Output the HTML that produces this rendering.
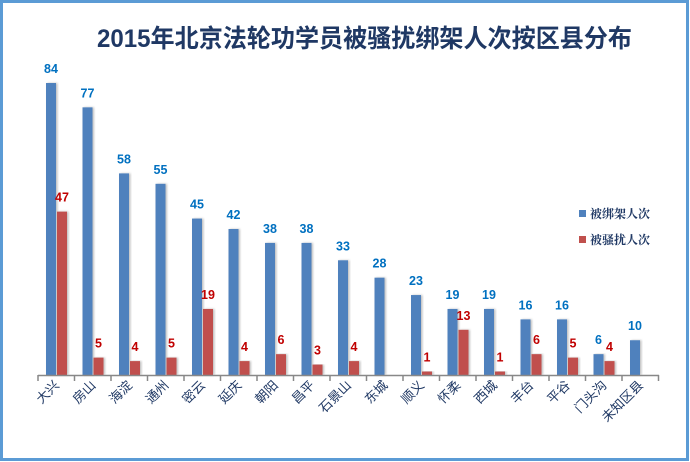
<!DOCTYPE html>
<html><head><meta charset="utf-8"><style>
body{margin:0;background:#fff}
svg{display:block}
</style></head><body>
<svg width="690" height="462" viewBox="0 0 690 462" xmlns="http://www.w3.org/2000/svg">
<defs><filter id="sh" x="-30%" y="-5%" width="160%" height="110%"><feDropShadow dx="1.5" dy="0" stdDeviation="1" flood-color="#000" flood-opacity="0.25"/></filter></defs>
<rect x="1.5" y="1.5" width="686" height="458" fill="#fff" stroke="#5b9bd5" stroke-width="3"/>
<text x="97" y="47" font-family="Liberation Sans, Noto Sans CJK SC, sans-serif" font-weight="bold" font-size="25" fill="#1f3864" textLength="535" lengthAdjust="spacingAndGlyphs">2015年北京法轮功学员被骚扰绑架人次按区县分布</text>
<g id="bars"></g>
<line x1="38" y1="375.5" x2="659" y2="375.5" stroke="#888" stroke-width="1.5"/>
<g id="ticks" stroke="#888" stroke-width="1.5"></g>
<g id="labels" font-family="Liberation Sans, Noto Sans CJK SC, sans-serif" font-size="13" fill="#1f3864"></g>
<rect x="579" y="210" width="7" height="7" fill="#4f81bd"/>
<text x="590" y="218" font-family="Noto Serif CJK SC, WenQuanYi Zen Hei, serif" font-weight="bold" font-size="12" fill="#1f3864">被绑架人次</text>
<rect x="579" y="236" width="7" height="7" fill="#c0504d"/>
<text x="590" y="244" font-family="Noto Serif CJK SC, WenQuanYi Zen Hei, serif" font-weight="bold" font-size="12" fill="#1f3864">被骚扰人次</text>
<script>
var names=["大兴","房山","海淀","通州","密云","延庆","朝阳","昌平","石景山","东城","顺义","怀柔","西城","丰台","平谷","门头沟","未知区县"];
var b=[84,77,58,55,45,42,38,38,33,28,23,19,19,16,16,6,10];
var r=[47,5,4,5,19,4,6,3,4,null,1,13,1,6,5,4,null];
var ns="http://www.w3.org/2000/svg",s=3.476,base=375;
function el(t,a,p,txt){var e=document.createElementNS(ns,t);for(var k in a)e.setAttribute(k,a[k]);if(txt!=null)e.textContent=txt;p.appendChild(e);return e;}
var B=document.getElementById("bars"),T=document.getElementById("ticks"),L=document.getElementById("labels");
for(var i=0;i<=17;i++){var x=38+36.5*i;el("line",{x1:x,y1:375,x2:x,y2:381},T);}
for(var i=0;i<17;i++){var x0=38+36.5*i;
var h=b[i]*s;el("rect",{x:x0+8,y:base-h,width:10,height:h,fill:"#4f81bd",filter:"url(#sh)"},B);
el("text",{x:x0+13,y:base-h-10,"text-anchor":"middle","font-family":"Liberation Sans, sans-serif","font-weight":"bold","font-size":"12.5",fill:"#0070c0"},B,b[i]);
if(r[i]!=null){var h2=r[i]*s;el("rect",{x:x0+19,y:base-h2,width:10,height:h2,fill:"#c0504d",filter:"url(#sh)"},B);
el("text",{x:x0+24,y:base-h2-10,"text-anchor":"middle","font-family":"Liberation Sans, sans-serif","font-weight":"bold","font-size":"12.5",fill:"#c00000"},B,r[i]);}
var cx=x0+22,cy=386;
el("text",{x:cx,y:cy,"text-anchor":"end",transform:"rotate(-45 "+cx+" "+cy+")"},L,names[i]);}
</script>
</svg>
</body></html>
